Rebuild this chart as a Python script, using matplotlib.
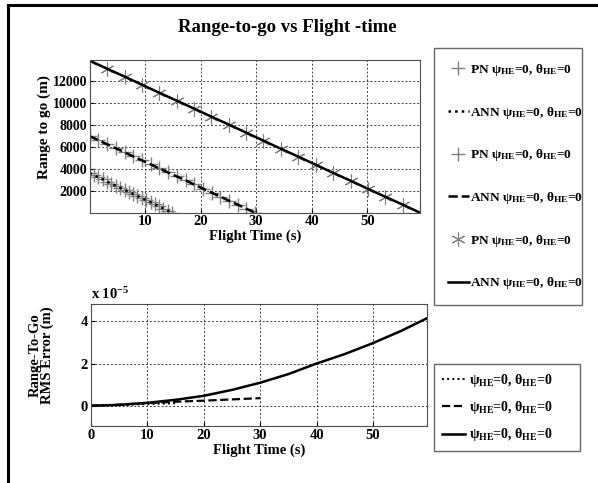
import matplotlib
matplotlib.use("Agg")
import matplotlib.pyplot as plt
from matplotlib.lines import Line2D

plt.rcParams["font.family"] = ["Liberation Serif", "DejaVu Serif"]
plt.rcParams["font.weight"] = "bold"
plt.rcParams["mathtext.fontset"] = "custom"
plt.rcParams["mathtext.rm"] = "Liberation Serif:bold"
plt.rcParams["mathtext.it"] = "Liberation Serif:bold"
plt.rcParams["mathtext.bf"] = "Liberation Serif:bold"

# ---- range-to-go data ----
# head-on case (star markers / solid)
t_a = [0, 3.1, 6.3, 9.4, 12.5, 15.7, 18.8, 21.9, 25.1, 28.2,
       31.3, 34.4, 37.6, 40.7, 43.8, 47.0, 50.1, 53.2, 56.4, 59.5]
r_a = [13850, 13120, 12390, 11660, 10930, 10200, 9480, 8750, 8020, 7290,
       6560, 5830, 5100, 4370, 3640, 2910, 2180, 1460, 730, 0]
# middle case (plus markers / dashed)
t_b = [0, 1.6, 3.1, 4.7, 6.3, 7.8, 9.4, 11.0, 12.5, 14.1,
       15.7, 17.3, 18.8, 20.4, 22.0, 23.5, 25.1, 26.7, 28.2, 29.8]
r_b = [6970, 6600, 6240, 5870, 5500, 5140, 4770, 4400, 4040, 3670,
       3300, 2940, 2570, 2200, 1830, 1470, 1100, 730, 370, 0]
# short case (plus markers / dotted)
t_c = [0, 0.8, 1.6, 2.4, 3.1, 3.9, 4.7, 5.5, 6.3, 7.1,
       7.8, 8.6, 9.4, 10.2, 11.0, 11.8, 12.5, 13.3, 14.1, 14.9]
r_c = [3600, 3410, 3220, 3030, 2840, 2650, 2460, 2270, 2080, 1890,
       1710, 1520, 1330, 1140, 950, 760, 570, 380, 190, 0]

# ---- RMS error data, units of 1e-5 m ----
te_a = [0, 5, 10, 15, 20, 25, 30, 35, 40, 45, 50, 55, 59.5]
e_a = [0, 0.04, 0.14, 0.28, 0.47, 0.75, 1.09, 1.5, 2.0, 2.45, 2.97, 3.55, 4.14]
te_b = [0, 5, 10, 15, 20, 25, 30]
e_b = [0, 0.05, 0.13, 0.19, 0.24, 0.30, 0.36]
te_c = [0, 5, 10, 15]
e_c = [0, 0.03, 0.08, 0.12]

lab = r"$\psi_{\rm HE}$=0, $\theta_{\rm HE}$=0"

W, H = 598, 483
fig = plt.figure(figsize=(W / 100, H / 100), dpi=100)

# outer frame (left + top edges only)
fig.add_artist(Line2D([8 / W, 8 / W], [0, 1 - 5 / H], color="k", lw=2.2,
                      transform=fig.transFigure))
fig.add_artist(Line2D([8 / W, 1], [1 - 5 / H, 1 - 5 / H], color="k", lw=2.2,
                      transform=fig.transFigure))

fig.text(0.48, 1 - 28 / H, "Range-to-go vs Flight -time", ha="center", va="center",
         fontsize=13.5, fontweight="bold")

grid_kw = dict(color="0.25", ls=(0, (2, 2)), lw=0.7)

# ---- top axes ----
ax1 = fig.add_axes([0.1497, 0.5596, 0.5527, 0.3162])
h1, = ax1.plot(t_c, r_c, ls="none", marker="+", ms=10, mew=1, color="0.5")
h2, = ax1.plot(t_c, r_c, ls=":", lw=1.8, color="k")
h3, = ax1.plot(t_b, r_b, ls="none", marker="+", ms=10, mew=1, color="0.5")
h4, = ax1.plot(t_b, r_b, ls="--", lw=1.8, color="k")
h5, = ax1.plot(t_a, r_a, ls="none", marker=(6, 2, 0), ms=10, mew=0.8, color="0.5")
h6, = ax1.plot(t_a, r_a, ls="-", lw=1.8, color="k")
ax1.set_xlim(0, 59.5)
ax1.set_ylim(0, 13900)
ax1.set_xticks([10, 20, 30, 40, 50])
ax1.set_yticks([2000, 4000, 6000, 8000, 10000, 12000])
ax1.grid(True, **grid_kw)
ax1.tick_params(direction="in", length=3, labelsize=10.5, pad=2)
ax1.tick_params(axis="y", labelsize=10, pad=1.5)
ax1.set_xlabel("Flight Time (s)", fontsize=10.5, fontweight="bold", labelpad=1)
ax1.set_ylabel("Range to go (m)", fontsize=11, fontweight="bold")
ax1.yaxis.set_label_coords(-0.116, 0.56)
for s in ax1.spines.values():
    s.set_color("0.3")

leg1 = fig.legend([h1, h2, h3, h4, h5, h6],
                  ["PN " + lab, "ANN " + lab, "PN " + lab, "ANN " + lab,
                   "PN " + lab, "ANN " + lab],
                  loc="upper left", mode="expand",
                  bbox_to_anchor=(434 / W, 1 - 303 / H, 148 / W, 255 / H),
                  fontsize=9.6, labelspacing=2.0, handlelength=1.55,
                  handletextpad=0.12, borderpad=1.05, borderaxespad=0,
                  fancybox=False, edgecolor="0.4", framealpha=1)
leg1.get_frame().set_linewidth(1.0)

# ---- bottom axes ----
ax2 = fig.add_axes([0.1517, 0.118, 0.5619, 0.2526])
g1, = ax2.plot(te_c, e_c, ls=":", lw=1.4, color="k")
g2, = ax2.plot(te_b, e_b, ls="--", lw=1.6, color="k")
g3, = ax2.plot(te_a, e_a, ls="-", lw=1.8, color="k")
ax2.set_xlim(0, 59.5)
ax2.set_ylim(-0.96, 4.82)
ax2.set_xticks([0, 10, 20, 30, 40, 50])
ax2.set_yticks([0, 2, 4])
ax2.grid(True, **grid_kw)
ax2.tick_params(direction="in", length=3, labelsize=10.5, pad=2)
ax2.set_xlabel("Flight Time (s)", fontsize=10.5, fontweight="bold", labelpad=1)
ax2.set_ylabel("Range-To-Go\nRMS Error (m)", fontsize=10.5, fontweight="bold",
               linespacing=0.85)
ax2.yaxis.set_label_coords(-0.11, 0.58)
ax2.text(0, 1.02, r"x 10$^{-5}$", transform=ax2.transAxes, ha="left", va="bottom",
         fontsize=10.5, fontweight="bold")
for s in ax2.spines.values():
    s.set_color("0.3")

leg2 = fig.legend([g1, g2, g3], [lab, lab, lab],
                  loc="upper left", mode="expand",
                  bbox_to_anchor=(434 / W, 1 - 456 / H, 146 / W, 92 / H),
                  fontsize=10, labelspacing=0.75, handlelength=1.7,
                  handletextpad=0.3, borderpad=0.55, borderaxespad=0,
                  fancybox=False, edgecolor="0.4", framealpha=1)
leg2.get_frame().set_linewidth(1.0)

fig.savefig("out.png", dpi=100)
